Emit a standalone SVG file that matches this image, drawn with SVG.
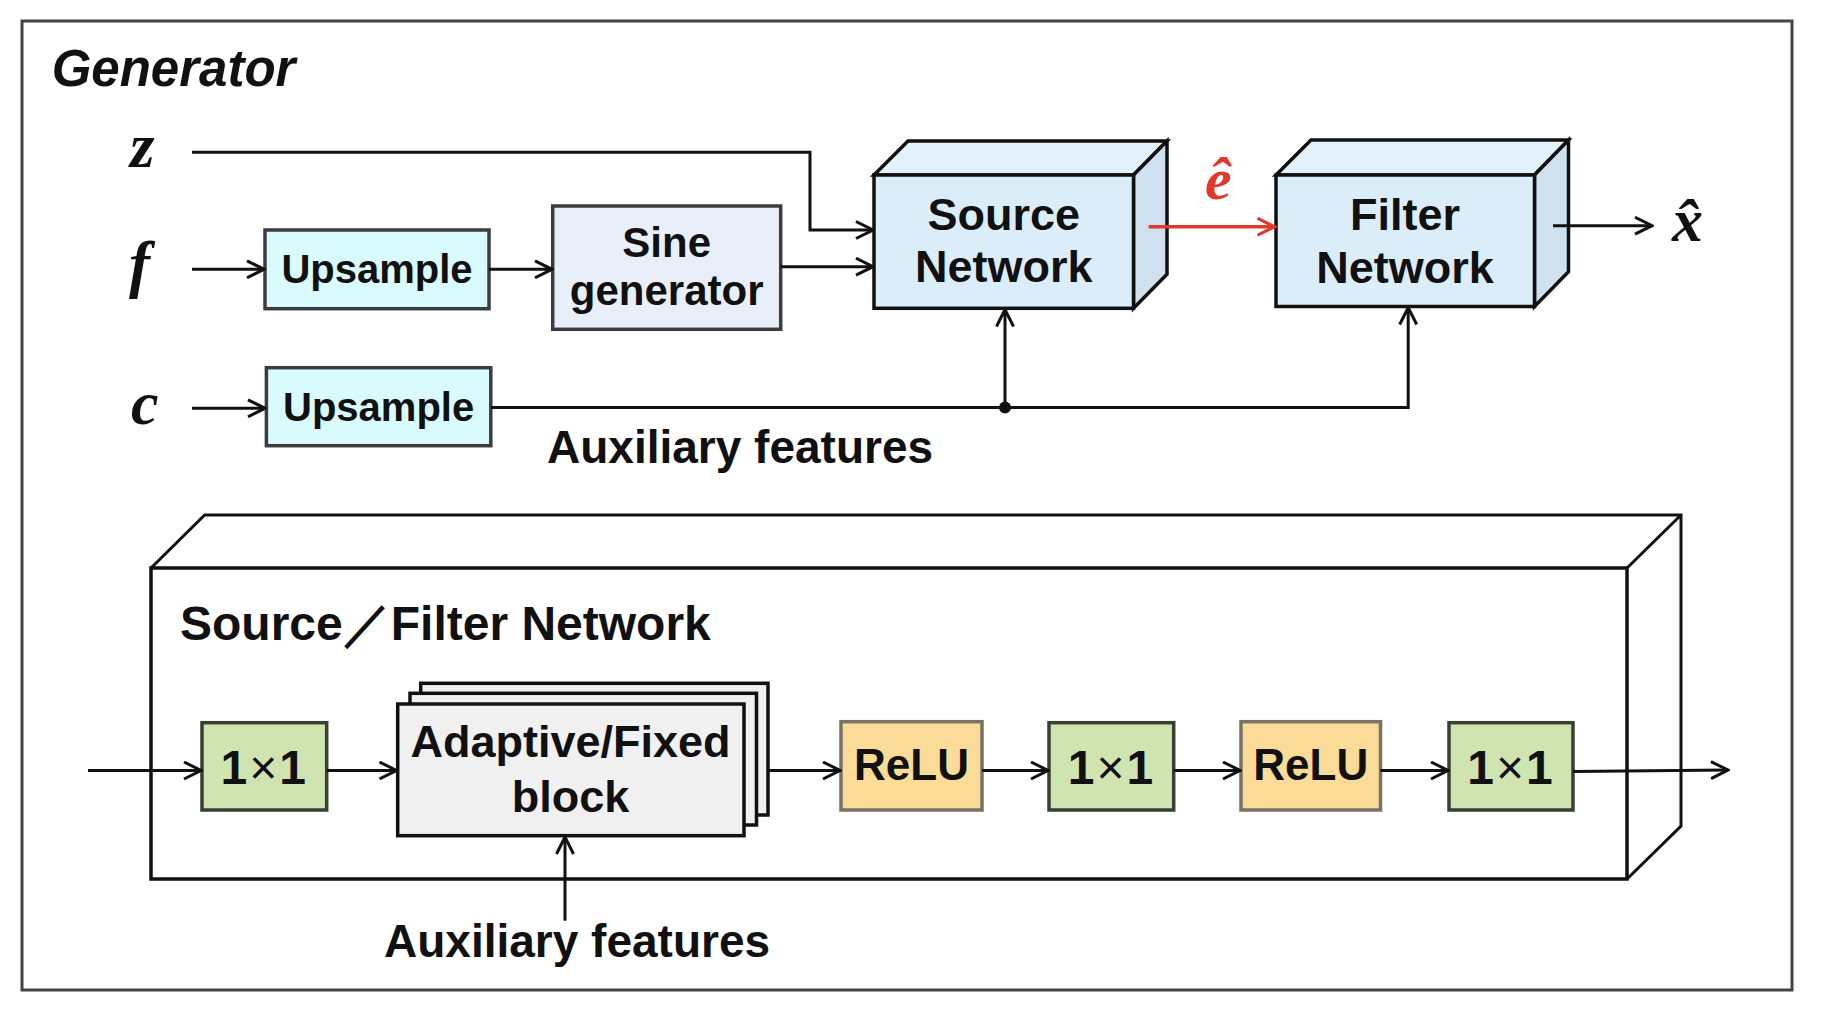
<svg xmlns="http://www.w3.org/2000/svg" width="1826" height="1020" viewBox="0 0 1826 1020">
  <style>
    .lbl { font-family: "Liberation Sans", Arial, sans-serif; font-weight: bold; fill: #111; }
    .var { font-family: "Liberation Serif", "Times New Roman", serif; font-weight: bold; font-style: italic; fill: #111; }
    .ln { fill: none; stroke: #111; stroke-width: 3; }
    .cube { stroke: #111; stroke-width: 3.5; stroke-linejoin: miter; }
    .up { fill: #dafbfd; stroke: #3c3c3c; stroke-width: 3.5; }
    .sine { fill: #e9eff9; stroke: #3c3c3c; stroke-width: 3.5; }
    .conv { fill: #d0e4b1; stroke: #3a3f35; stroke-width: 3.5; }
    .relu { fill: #fadc98; stroke: #7a7264; stroke-width: 3.5; }
    .blk { fill: #f0f0f0; stroke: #111; stroke-width: 3.5; }
  </style>
  <defs>
    <marker id="arr" viewBox="0 0 20 20" refX="18" refY="10" markerWidth="20" markerHeight="20" markerUnits="userSpaceOnUse" orient="auto">
      <path d="M1,1.5 L18,10 L1,18.5" fill="none" stroke="#111" stroke-width="3"/>
    </marker>
    <marker id="arrRed" viewBox="0 0 20 20" refX="18" refY="10" markerWidth="20" markerHeight="20" markerUnits="userSpaceOnUse" orient="auto">
      <path d="M1,1.5 L18,10 L1,18.5" fill="none" stroke="#e0392b" stroke-width="3"/>
    </marker>
  </defs>

  <rect x="0" y="0" width="1826" height="1020" fill="#ffffff"/>
  <rect id="frame" x="22" y="21" width="1770" height="969" fill="none" stroke="#444" stroke-width="3"/>

  <text id="title" class="lbl" x="51.7" y="86" font-size="51" font-style="italic">Generator</text>

  <g id="inputs">
    <text class="var" x="130" y="166.7" font-size="63">z</text>
    <text class="var" x="129" y="285" font-size="63">f</text>
    <text class="var" x="131" y="424" font-size="62">c</text>
  </g>

  <g id="upsample-f">
    <rect class="up" x="265" y="230" width="224" height="78.7"/>
    <text class="lbl" x="377" y="283" font-size="40" text-anchor="middle">Upsample</text>
  </g>

  <g id="upsample-c">
    <rect class="up" x="266.4" y="367.7" width="224.4" height="78"/>
    <text class="lbl" x="378.6" y="420.7" font-size="40" text-anchor="middle">Upsample</text>
  </g>

  <g id="sine-generator">
    <rect class="sine" x="552.7" y="206" width="228" height="123.3"/>
    <text class="lbl" x="666.7" y="257.3" font-size="42" text-anchor="middle">Sine</text>
    <text class="lbl" x="666.7" y="305" font-size="42" text-anchor="middle">generator</text>
  </g>

  <g id="source-network">
    <polygon class="cube" points="874,175 908,141 1167,141 1133.5,175" fill="#e2f1fc"/>
    <polygon class="cube" points="1133.5,175 1167,141 1167,274.3 1133.5,308.3" fill="#cfe1ee"/>
    <rect class="cube" x="874" y="175" width="259.5" height="133.3" fill="#dcedfa"/>
    <text class="lbl" x="1003.7" y="230" font-size="45" text-anchor="middle">Source</text>
    <text class="lbl" x="1003.7" y="281.7" font-size="45" text-anchor="middle">Network</text>
  </g>

  <g id="filter-network">
    <polygon class="cube" points="1276,175 1311,140 1568.5,140 1534.5,175" fill="#e2f1fc"/>
    <polygon class="cube" points="1534.5,175 1568.5,140 1568.5,271.7 1534.5,306.5" fill="#cfe1ee"/>
    <rect class="cube" x="1276" y="175" width="258.5" height="131.5" fill="#dcedfa"/>
    <text class="lbl" x="1405" y="230" font-size="45" text-anchor="middle">Filter</text>
    <text class="lbl" x="1405" y="283" font-size="45" text-anchor="middle">Network</text>
  </g>

  <g id="signals">
    <text class="var" x="1205" y="199" font-size="60" style="fill:#e0392b">ê</text>
    <text class="var" x="1672" y="241" font-size="62">x&#x302;</text>
  </g>

  <g id="aux-label-top">
    <text class="lbl" x="547" y="463.3" font-size="46">Auxiliary features</text>
  </g>

  <g id="source-filter-network">
    <path class="ln" d="M151,568 L204.7,515 L1681,515 L1681,826 L1627,879 M1627,568 L1681,515" stroke-width="3.5"/>
    <rect x="151" y="568" width="1476" height="311" fill="none" stroke="#111" stroke-width="3.5"/>
    <text class="lbl" x="180" y="640" font-size="48">Source／Filter Network</text>
  </g>

  <g id="conv1">
    <rect class="conv" x="202" y="722.7" width="124.7" height="87.3"/>
    <text class="lbl" x="264.3" y="784" font-size="48" text-anchor="middle" letter-spacing="2">1<tspan font-weight="normal">×</tspan>1</text>
  </g>

  <g id="adaptive-fixed-block">
    <rect class="blk" x="420.7" y="683.3" width="347.3" height="131.7"/>
    <rect class="blk" x="410" y="693.3" width="346.5" height="131.7"/>
    <rect class="blk" x="397.7" y="704" width="346.3" height="131.7"/>
    <text class="lbl" x="570.5" y="756.7" font-size="45" text-anchor="middle">Adaptive/Fixed</text>
    <text class="lbl" x="570.5" y="811.7" font-size="45" text-anchor="middle">block</text>
  </g>

  <g id="relu1">
    <rect class="relu" x="841" y="721.7" width="141" height="88.3"/>
    <text class="lbl" x="911.5" y="780" font-size="44" text-anchor="middle">ReLU</text>
  </g>

  <g id="conv2">
    <rect class="conv" x="1049" y="722.7" width="124.7" height="87.3"/>
    <text class="lbl" x="1111.4" y="784" font-size="48" text-anchor="middle" letter-spacing="2">1<tspan font-weight="normal">×</tspan>1</text>
  </g>

  <g id="relu2">
    <rect class="relu" x="1241" y="721.7" width="139.5" height="88.3"/>
    <text class="lbl" x="1310.8" y="780" font-size="44" text-anchor="middle">ReLU</text>
  </g>

  <g id="conv3">
    <rect class="conv" x="1449" y="722.7" width="124" height="87.3"/>
    <text class="lbl" x="1511" y="784" font-size="48" text-anchor="middle" letter-spacing="2">1<tspan font-weight="normal">×</tspan>1</text>
  </g>

  <g id="aux-label-bottom">
    <text class="lbl" x="384" y="957" font-size="46">Auxiliary features</text>
  </g>

  <g id="connectors">
    <path class="ln" d="M192,152.3 L810,152.3 L810,230 L873,230" marker-end="url(#arr)"/>
    <path class="ln" d="M192,269.3 L264,269.3" marker-end="url(#arr)"/>
    <path class="ln" d="M489,269.3 L552,269.3" marker-end="url(#arr)"/>
    <path class="ln" d="M780.7,266.7 L873,266.7" marker-end="url(#arr)"/>
    <path class="ln" d="M192,408.3 L265,408.3" marker-end="url(#arr)"/>
    <path class="ln" d="M490.8,407.5 L1408.2,407.5 L1408.2,307.5" marker-end="url(#arr)"/>
    <path class="ln" d="M1005,407.5 L1005,309.5" marker-end="url(#arr)"/>
    <circle cx="1005" cy="407.5" r="6" fill="#111"/>
    <path d="M1148.7,226.7 L1274.5,226.7" fill="none" stroke="#e0392b" stroke-width="3.5" marker-end="url(#arrRed)"/>
    <path class="ln" d="M1553,225.7 L1652,225.7" marker-end="url(#arr)"/>

    <path class="ln" d="M88,770.5 L201,770.5" marker-end="url(#arr)"/>
    <path class="ln" d="M326.7,770.5 L396.5,770.5" marker-end="url(#arr)"/>
    <path class="ln" d="M768,770.5 L840,770.5" marker-end="url(#arr)"/>
    <path class="ln" d="M982,770.5 L1048,770.5" marker-end="url(#arr)"/>
    <path class="ln" d="M1173.7,770.5 L1240,770.5" marker-end="url(#arr)"/>
    <path class="ln" d="M1380.5,770.5 L1448,770.5" marker-end="url(#arr)"/>
    <path class="ln" d="M1573,771.5 L1728,770" marker-end="url(#arr)"/>
    <path class="ln" d="M565,920.7 L565,837" marker-end="url(#arr)"/>
  </g>
</svg>
